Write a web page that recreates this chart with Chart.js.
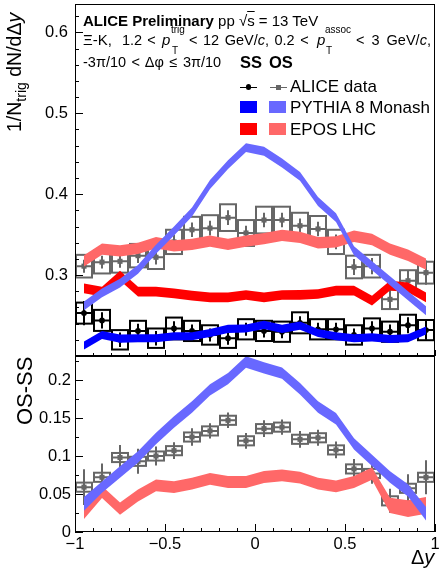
<!DOCTYPE html>
<html><head><meta charset="utf-8">
<script src="https://cdn.jsdelivr.net/npm/chart.js@4.4.0/dist/chart.umd.min.js"></script>
<style>
html,body{margin:0;padding:0;background:#fff;}
#wrap{position:relative;width:439px;height:572px;overflow:hidden;font-family:"Liberation Sans",Arial,Helvetica,sans-serif;color:#000;background:#fff;}
canvas{position:absolute;left:0;}
.t{position:absolute;white-space:pre;line-height:1;}
.sw{position:absolute;}
</style></head>
<body>
<div id="wrap">
  <canvas id="top" width="439" height="360" style="top:0px;width:439px;height:360px"></canvas>
  <canvas id="bot" width="439" height="222" style="top:350px;width:439px;height:222px"></canvas>
</div>
<script>
// ---------- data ----------
const binCenters = [-0.95,-0.85,-0.75,-0.65,-0.55,-0.45,-0.35,-0.25,-0.15,-0.05,0.05,0.15,0.25,0.35,0.45,0.55,0.65,0.75,0.85,0.95];
const binHalfWidth = 0.05;

// ALICE data, opposite-sign (OS) pairs
const osData = [0.311,0.316,0.317,0.324,0.322,0.341,0.356,0.358,0.371,0.352,0.368,0.368,0.361,0.357,0.341,0.310,0.311,0.270,0.293,0.303];
const osStat = [0.008,0.008,0.008,0.009,0.009,0.009,0.009,0.009,0.009,0.009,0.009,0.009,0.009,0.009,0.009,0.010,0.010,0.013,0.013,0.015];
const osSys  = [0.014,0.014,0.014,0.0145,0.0145,0.015,0.016,0.016,0.0165,0.016,0.0165,0.0165,0.016,0.016,0.015,0.014,0.014,0.012,0.013,0.0135];
// ALICE data, same-sign (SS) pairs
const ssData = [0.253,0.244,0.220,0.231,0.222,0.234,0.231,0.226,0.222,0.233,0.231,0.230,0.241,0.233,0.233,0.226,0.234,0.230,0.238,0.232];
const ssStat = [0.015,0.010,0.009,0.009,0.009,0.009,0.008,0.008,0.008,0.008,0.008,0.008,0.008,0.008,0.008,0.008,0.009,0.009,0.010,0.012];
const ssSys  = [0.013,0.013,0.012,0.0125,0.012,0.0135,0.0125,0.012,0.012,0.0125,0.0125,0.0125,0.013,0.0125,0.0125,0.012,0.0125,0.0125,0.013,0.0125];
// ALICE OS-SS
const diffData = [0.059,0.072,0.098,0.093,0.100,0.107,0.125,0.133,0.147,0.120,0.136,0.138,0.122,0.124,0.108,0.083,0.077,0.041,0.0575,0.072];
const diffStat = [0.0235,0.018,0.0165,0.0165,0.0125,0.011,0.0116,0.010,0.0103,0.0103,0.011,0.0099,0.011,0.0105,0.011,0.013,0.0136,0.0158,0.0186,0.0224];
const diffSys  = [0.006,0.006,0.006,0.006,0.006,0.006,0.006,0.006,0.006,0.006,0.006,0.006,0.006,0.006,0.006,0.006,0.006,0.006,0.006,0.006];

// Models (band centre and half width)
const pythiaOS    = [0.262,0.278,0.290,0.307,0.332,0.3545,0.378,0.412,0.4365,0.4575,0.453,0.4385,0.422,0.391,0.371,0.330,0.3115,0.293,0.2745,0.256];
const pythiaOSErr = [0.0055,0.0055,0.0055,0.0055,0.0055,0.0055,0.0055,0.0055,0.0055,0.0055,0.0055,0.0055,0.0055,0.0055,0.0055,0.0055,0.0055,0.0055,0.0055,0.0055];
const pythiaSS    = [0.213,0.226,0.2215,0.222,0.222,0.2245,0.2245,0.2285,0.2335,0.234,0.2385,0.2335,0.2375,0.2285,0.2245,0.222,0.223,0.221,0.222,0.2315];
const pythiaSSErr = [0.005,0.005,0.005,0.005,0.005,0.005,0.005,0.005,0.005,0.005,0.005,0.005,0.005,0.005,0.005,0.005,0.005,0.005,0.005,0.005];
const eposOS      = [0.3176,0.332,0.330,0.333,0.340,0.336,0.338,0.342,0.338,0.342,0.345,0.349,0.3465,0.340,0.341,0.348,0.344,0.332,0.3245,0.3135];
const eposOSErr   = [0.007,0.007,0.007,0.007,0.007,0.007,0.007,0.007,0.007,0.007,0.007,0.007,0.007,0.007,0.007,0.007,0.007,0.007,0.007,0.007];
const eposSS      = [0.2836,0.2795,0.2992,0.2795,0.2795,0.2775,0.2746,0.2725,0.2725,0.2754,0.2725,0.2754,0.2756,0.2766,0.2807,0.2807,0.2684,0.2869,0.2848,0.2725];
const eposSSErr   = [0.006,0.006,0.006,0.006,0.006,0.006,0.006,0.006,0.006,0.006,0.006,0.006,0.006,0.006,0.006,0.006,0.006,0.006,0.006,0.006];
const pythiaDiff    = [0.037,0.059,0.079,0.0987,0.123,0.1447,0.1645,0.187,0.2018,0.2237,0.216,0.209,0.1886,0.1645,0.149,0.116,0.0943,0.0724,0.0548,0.024];
const pythiaDiffErr = [0.009,0.0075,0.0075,0.0075,0.0075,0.0075,0.0075,0.0075,0.0075,0.0075,0.0075,0.0075,0.0075,0.0075,0.0075,0.0075,0.0075,0.0075,0.008,0.009];
const eposDiff      = [0.026,0.0526,0.0307,0.048,0.0614,0.059,0.0636,0.070,0.0658,0.0658,0.0724,0.0746,0.0715,0.0636,0.060,0.0658,0.0768,0.035,0.0307,0.035];
const eposDiffErr   = [0.009,0.008,0.008,0.008,0.0078,0.0078,0.0078,0.0078,0.0078,0.0078,0.0078,0.0078,0.0078,0.0078,0.0078,0.0078,0.008,0.010,0.011,0.011];

// Axes
const upperYTicks = [0.3,0.4,0.5,0.6];
const upperYLabels = ['0.3','0.4','0.5','0.6'];
const lowerYTicks = [0,0.05,0.1,0.15,0.2];
const lowerYLabels = ['0','0.05','0.1','0.15','0.2'];
const xTicks = [-1,-0.5,0,0.5,1];
const xLabels = ['\u22121','\u22120.5','0','0.5','1'];

// ---------- styles ----------
const C = {blue:'#0000ff', lblue:'#6868ff', red:'#ff0000', lred:'#ff6868', gray:'#666666', black:'#000000'};
const FONT = '"Liberation Sans", Arial, Helvetica, sans-serif';

function pts(vals, off, sign){ return binCenters.map((x,i)=>({x:x, y: vals[i] + (off ? sign*off[i] : 0)})); }
function band(center, err, color){
  return [
    {data: pts(center, err, -1), borderColor:'rgba(0,0,0,0)', borderWidth:0, pointRadius:0, fill:false, tension:0},
    {data: pts(center, err, +1), borderColor:'rgba(0,0,0,0)', borderWidth:0, pointRadius:0, backgroundColor:color, fill:'-1', tension:0}
  ];
}
function dataSet(vals, stat, sys, color, style){
  return {data: pts(vals), showLine:false, pointStyle: style, pointRadius: style==='circle'?2.9:3.6,
    pointBackgroundColor: color, pointBorderColor: color, pointBorderWidth:0,
    errStat: stat, errSys: sys, errColor: color};
}

const errPlugin = {
  id:'errBoxes',
  beforeDatasetDraw(chart, args){
    const ds = chart.data.datasets[args.index];
    if(!ds.errStat) return;
    const {ctx, chartArea:a} = chart; const xs = chart.scales.x, ys = chart.scales.y;
    ctx.save(); ctx.beginPath(); ctx.rect(a.left,a.top,a.right-a.left,a.bottom-a.top); ctx.clip();
    ctx.strokeStyle = ds.errColor; ctx.lineWidth = 2;
    ds.data.forEach((p,i)=>{
      const x0 = xs.getPixelForValue(p.x - binHalfWidth), x1 = xs.getPixelForValue(p.x + binHalfWidth);
      const xc = xs.getPixelForValue(p.x), yc = ys.getPixelForValue(p.y);
      const s0 = ys.getPixelForValue(p.y + ds.errSys[i]), s1 = ys.getPixelForValue(p.y - ds.errSys[i]);
      ctx.strokeRect(x0+1, s0, x1-x0-2, s1-s0);
      ctx.beginPath();
      ctx.moveTo(x0+1, yc); ctx.lineTo(x1-1, yc);
      ctx.moveTo(xc, ys.getPixelForValue(p.y + ds.errStat[i])); ctx.lineTo(xc, ys.getPixelForValue(p.y - ds.errStat[i]));
      ctx.stroke();
    });
    ctx.restore();
  }
};

const framePlugin = {
  id:'frame',
  afterDraw(chart, args, o){
    const {ctx, chartArea:a} = chart; const xs = chart.scales.x, ys = chart.scales.y;
    ctx.save(); ctx.strokeStyle='#000'; ctx.lineWidth=1;
    ctx.strokeRect(Math.round(a.left)+0.5, Math.round(a.top)+0.5, Math.round(a.right-a.left)-1, Math.round(a.bottom-a.top)-1);
    ctx.beginPath();
    const yMin = ys.min, yMax = ys.max;
    for(let k=0;k<=Math.round((yMax-o.yMinorStart)/o.yMinor);k++){
      const v = o.yMinorStart + k*o.yMinor; if(v<yMin-1e-9||v>yMax+1e-9) continue;
      const major = Math.abs(v/o.yMajor - Math.round(v/o.yMajor))<1e-6;
      const py = Math.round(ys.getPixelForValue(v))+0.5;
      ctx.moveTo(a.left, py); ctx.lineTo(a.left + (major?o.yMajLen:o.yMinLen), py);
    }
    for(let k=0;k<=20;k++){
      const v = -1 + k*0.1; const major = (k%5===0);
      const px = Math.round(xs.getPixelForValue(v))+0.5;
      ctx.moveTo(px, a.bottom); ctx.lineTo(px, a.bottom - (major?o.xMajLen:o.xMinLen));
    }
    ctx.stroke(); ctx.restore();
  }
};

function idxLabel(ticksArr, labels){ return (v)=>{ const i = ticksArr.findIndex(t=>Math.abs(t-v)<1e-9); return i<0?'':labels[i]; }; }
function noPad(s){ s.paddingTop=0; s.paddingBottom=0; s.paddingLeft=0; s.paddingRight=0; }

function makeChart(id, datasets, yMin, yMax, yT, yL, showX, padTop, xH, frameOpts, yPad){
  return new Chart(document.getElementById(id), {
    type:'line',
    data:{datasets},
    options:{
      responsive:false, maintainAspectRatio:false, animation:false, devicePixelRatio:1,
      layout:{padding:{top:padTop, right:4, left:0, bottom:0}},
      plugins:{legend:{display:false}, tooltip:{enabled:false}, frame: frameOpts, filler:{propagate:false}},
      elements:{line:{tension:0}},
      scales:{
        x:{type:'linear', min:-1, max:1, grid:{display:false, drawTicks:false}, border:{display:false},
           afterBuildTicks: s=>{ s.ticks = xTicks.map(v=>({value:v})); },
           afterFit: s=>{ s.height = xH; noPad(s); },
           ticks:{display:showX, autoSkip:false, maxRotation:0, padding:3, color:'#000', font:{family:FONT, size:16.5}, callback: idxLabel(xTicks, xLabels)}},
        y:{type:'linear', min:yMin, max:yMax, grid:{display:false, drawTicks:false}, border:{display:false},
           afterBuildTicks: s=>{ s.ticks = yT.map(v=>({value:v})); },
           afterFit: s=>{ s.width = 75; noPad(s); },
           ticks:{padding:yPad, color:'#000', font:{family:FONT, size:16.5}, callback: idxLabel(yT, yL)}}
      }
    },
    plugins:[errPlugin, framePlugin]
  });
}

const upperSets = [
  ...band(pythiaOS, pythiaOSErr, C.lblue),
  ...band(pythiaSS, pythiaSSErr, C.blue),
  ...band(eposOS, eposOSErr, C.lred),
  ...band(eposSS, eposSSErr, C.red),
  dataSet(osData, osStat, osSys, C.gray, 'rect'),
  dataSet(ssData, ssStat, ssSys, C.black, 'circle')
];
const lowerSets = [
  ...band(pythiaDiff, pythiaDiffErr, C.lblue),
  ...band(eposDiff, eposDiffErr, C.lred),
  dataSet(diffData, diffStat, diffSys, C.gray, 'rect')
];

makeChart('top', upperSets, 0.2, 0.635, upperYTicks, upperYLabels, false, 4, 3,
  {yMinorStart:0.2, yMinor:0.02, yMajor:0.1, yMajLen:8, yMinLen:4, xMajLen:6, xMinLen:3}, 7);
makeChart('bot', lowerSets, 0, 0.2316, lowerYTicks, lowerYLabels, true, 6, 40,
  {yMinorStart:0, yMinor:0.025, yMajor:0.05, yMajLen:8, yMinLen:4, xMajLen:8, xMinLen:4}, 4);

// ---------- text ----------
const wrap = document.getElementById('wrap');
const ASC = 0.8465;
function addText(html, x, base, fs, st){
  const d = document.createElement('div'); d.className='t'; d.innerHTML = html;
  d.style.fontSize = fs+'px'; d.style.left = x+'px'; d.style.top = (base - ASC*fs)+'px';
  if(st) Object.assign(d.style, st);
  wrap.appendChild(d); return d;
}
function addRight(html, xr, base, fs, st){ const d = addText(html, 0, base, fs, st); d.style.left = (xr - d.offsetWidth)+'px'; return d; }
function addRot(html, xBase, yEnd, fs){
  const d = addText(html, 0, 0, fs); d.style.transformOrigin='0 0'; d.style.transform='rotate(-90deg)';
  const w = d.offsetWidth; d.style.left = (xBase - ASC*fs)+'px'; d.style.top = (yEnd + w)+'px'; return d;
}
function box(x,y,w,h,c,round){ const d=document.createElement('div'); d.className='sw'; Object.assign(d.style,{left:x+'px',top:y+'px',width:w+'px',height:h+'px',background:c}); if(round) d.style.borderRadius='50%'; wrap.appendChild(d); }

addText('<b>ALICE Preliminary</b> pp \u221A<span style="text-decoration:overline">s</span> = 13 TeV', 83, 26, 15);
addText('\u039E-K,', 83, 45, 15);
addText('1.2 <', 122, 45, 14.5, {wordSpacing:'1px'});
addText('<i>p</i>', 162, 45, 15);
addText('trig', 171, 33, 10);
addText('T', 172, 54, 10);
addText('< 12 GeV/<i>c</i>, 0.2 <', 189, 45, 14.5, {wordSpacing:'1.5px'});
addText('<i>p</i>', 317, 45, 15);
addText('assoc', 325, 33, 10);
addText('T', 326, 54, 10);
addText('< 3 GeV/<i>c</i>,', 356, 45, 14.5, {wordSpacing:'3px'});
addText('-3\u03C0/10 < \u0394\u03C6 \u2264 3\u03C0/10', 83, 67, 14.5, {wordSpacing:'1.5px'});
addText('SS', 240, 68, 16.5, {fontWeight:'bold'});
addText('OS', 269, 68, 16.5, {fontWeight:'bold'});
addText('ALICE data', 290, 92, 17);
addText('PYTHIA 8 Monash', 290, 113.5, 17);
addText('EPOS LHC', 290, 135.5, 17);
// legend swatches
box(240, 86.5, 17, 1.6, C.black); box(245.5, 84.2, 5.8, 5.8, C.black, true);
box(269.5, 86.5, 17, 1.6, C.gray); box(275.5, 84.8, 5, 5, C.gray);
box(240, 101, 17, 12, C.blue); box(269, 101, 17, 12, C.lblue);
box(240, 123, 17, 12, C.red); box(269, 123, 17, 12, C.lred);
// axis titles
addRot('1/N<span style="font-size:0.72em;position:relative;top:0.35em">trig</span> dN/d\u0394<i>y</i>', 22, 13, 19.5);
addRot('OS-SS', 33, 357, 22);
addRight('\u0394<i>y</i>', 434, 564, 20);
</script>
</body></html>
